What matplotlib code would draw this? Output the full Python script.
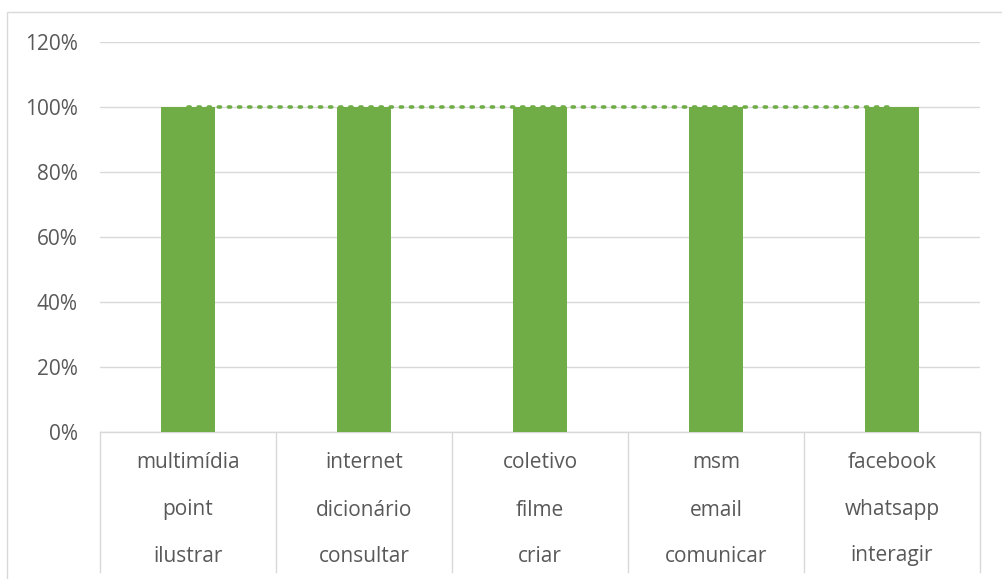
import matplotlib
matplotlib.use("Agg")
import matplotlib.pyplot as plt
from matplotlib.patches import Rectangle
from matplotlib.ticker import PercentFormatter

row1 = ["multimídia", "internet", "coletivo", "msm", "facebook"]
row2 = ["point", "dicionário", "filme", "email", "whatsapp"]
row3 = ["ilustrar", "consultar", "criar", "comunicar", "interagir"]
bar_values = [1.0, 1.0, 1.0, 1.0, 1.0]
line_values = [1.0, 1.0, 1.0, 1.0, 1.0]
yticks = [0, 0.2, 0.4, 0.6, 0.8, 1.0, 1.2]

plt.rcParams['font.family'] = ['Open Sans', 'DejaVu Sans']
W, H = 1002, 579
fig = plt.figure(figsize=(W / 100, H / 100), dpi=100)

# outer chart border
fig.patches.append(Rectangle((7 / W, -0.1), 1.2, (579 - 12) / H + 0.1,
                             transform=fig.transFigure, fill=False,
                             edgecolor='#D9D9D9', linewidth=1))

left, right, top, bottom = 100, 980, 42, 432
ax = fig.add_axes([left / W, (H - bottom) / H, (right - left) / W, (bottom - top) / H])
text_color = '#595959'
green = '#70AD47'

x = list(range(len(row1)))
ax.bar(x, bar_values, width=0.31, color=green, zorder=3)
ax.plot(x, line_values, linestyle=(0, (0.6, 2.2)), color=green, linewidth=2.6,
        dash_capstyle='round', zorder=4)

ax.set_xlim(-0.5, len(row1) - 0.5)
ax.set_ylim(0, 1.2)
ax.set_yticks(yticks)
ax.yaxis.set_major_formatter(PercentFormatter(1.0, decimals=0))
ax.tick_params(axis='y', length=0, pad=16, labelsize=15, labelcolor=text_color)
ax.set_xticks([])
ax.grid(axis='y', color='#D9D9D9', linewidth=1, zorder=0)
for s in ['top', 'right', 'left']:
    ax.spines[s].set_visible(False)
ax.spines['bottom'].set_color('#D9D9D9')
ax.spines['bottom'].set_linewidth(1)

px = 1.2 / (bottom - top)
# category boxes
for b in range(len(row1) + 1):
    ax.plot([b - 0.5, b - 0.5], [0, -(572 - bottom) * px], color='#D9D9D9',
            linewidth=1, clip_on=False)
rows = [row1, row2, row3]
ys = [463, 510, 556]
for r, yy in zip(rows, ys):
    for i, lab in enumerate(r):
        ax.text(i, -(yy - bottom) * px, lab, ha='center', va='center',
                fontsize=15, color=text_color, clip_on=False)

fig.savefig('out.png', dpi=100)
